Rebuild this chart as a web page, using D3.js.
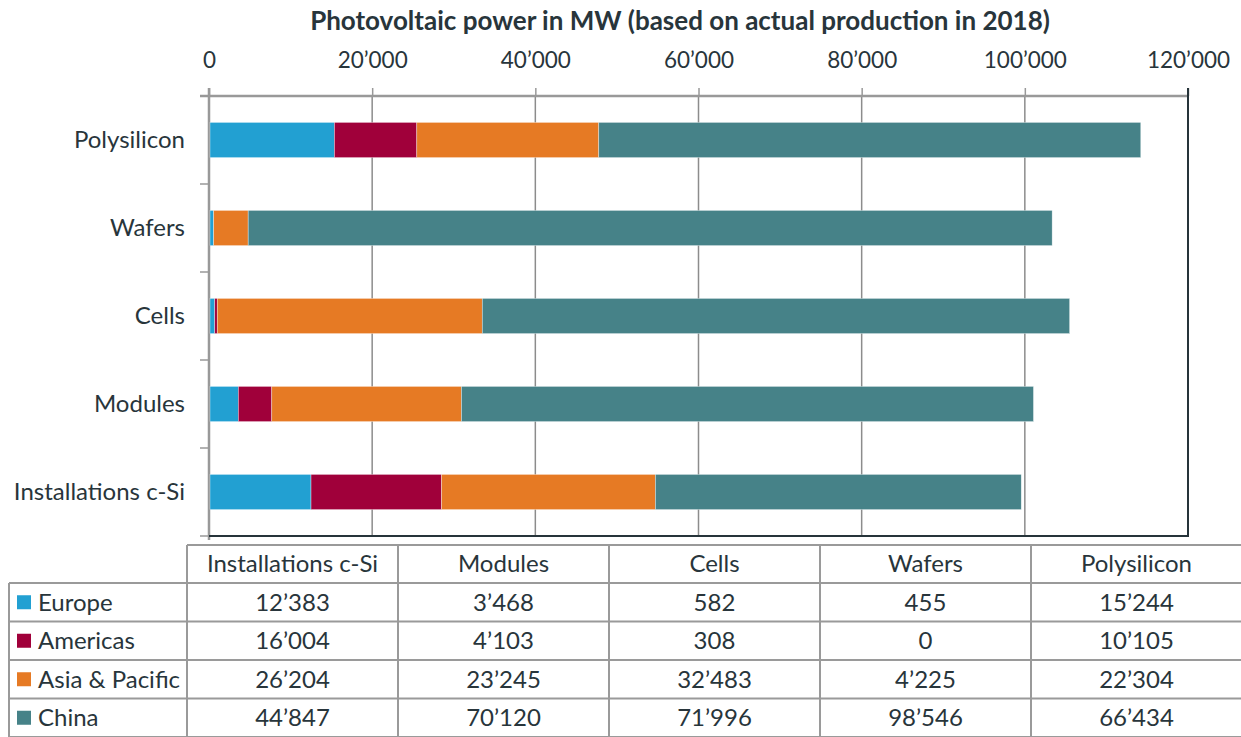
<!DOCTYPE html>
<html>
<head>
<meta charset="utf-8">
<script src="https://cdn.jsdelivr.net/npm/d3@7"></script>
<style>
  body { margin: 0; background: #fff; }
  svg text { font-family: Lato, "Open Sans", sans-serif; fill: #28353b; }
</style>
</head>
<body>
<svg id="chart" width="1241" height="737"></svg>
<script>
// columns in the order of the data table
const stages = ["Installations c-Si", "Modules", "Cells", "Wafers", "Polysilicon"];
const regions = ["Europe", "Americas", "Asia & Pacific", "China"];
const europe = [12383, 3468, 582, 455, 15244];
const americas = [16004, 4103, 308, 0, 10105];
const asiaPacific = [26204, 23245, 32483, 4225, 22304];
const china = [44847, 70120, 71996, 98546, 66434];
const xTicks = [0, 20000, 40000, 60000, 80000, 100000, 120000];
const colors = ["#22a0d2", "#a0003a", "#e67a24", "#468288"];

const title = "Photovoltaic power in MW (based on actual production in 2018)";

const margin = { top: 96, left: 209, right: 53, bottom: 201 };
const width = 1241 - margin.left - margin.right;
const height = 737 - margin.top - margin.bottom;

const fmt = d3.formatLocale({ decimal: ".", thousands: "\u2019", grouping: [3], currency: ["", ""] }).format(",d");

// one row per stage for the stack
const seriesValues = [europe, americas, asiaPacific, china];
const rows = stages.map((s, i) => {
  const r = { stage: s };
  regions.forEach((reg, j) => r[reg] = seriesValues[j][i]);
  return r;
});

const svg = d3.select("#chart");
const chart = svg.append("g").attr("transform", `translate(${margin.left},${margin.top})`);

const xScale = d3.scaleLinear().domain([0, 120000]).range([0, width]);
const yScale = d3.scaleBand()
  .domain(stages.slice().reverse())
  .range([0, height])
  .paddingInner(0.6)
  .paddingOuter(0.3);

// vertical gridlines
chart.append("g")
  .selectAll("line")
  .data(xTicks.slice(1, -1))
  .join("line")
    .attr("x1", d => xScale(d)).attr("x2", d => xScale(d))
    .attr("y1", 0).attr("y2", height)
    .attr("stroke", "#8c8c8c").attr("stroke-width", 1.5);

// top axis
const xAxis = d3.axisTop(xScale).tickValues(xTicks).tickFormat(fmt).tickSize(8).tickPadding(20);
const xAxisG = chart.append("g").attr("class", "x-axis").call(xAxis);
xAxisG.select(".domain").attr("stroke", "#999").attr("stroke-width", 2.5).attr("d", `M-9,0H${width}`);
xAxisG.selectAll(".tick line").attr("stroke", "#999").attr("stroke-width", 1.5);
xAxisG.selectAll(".tick text").style("font-size", "22.5px").style("font-family", "Lato, sans-serif").attr("fill", "#28353b");

// left axis with ticks between categories
const yAxisG = chart.append("g").attr("class", "y-axis");
yAxisG.append("line")
  .attr("x1", 0).attr("x2", 0).attr("y1", -8).attr("y2", height + 4)
  .attr("stroke", "#999").attr("stroke-width", 2.5);
const bounds = d3.range(stages.length + 1).map(i => i * yScale.step());
yAxisG.selectAll(".cat-tick")
  .data(bounds)
  .join("line")
    .attr("class", "cat-tick")
    .attr("x1", -9).attr("x2", 0)
    .attr("y1", d => d).attr("y2", d => d)
    .attr("stroke", "#999").attr("stroke-width", 1.5);
yAxisG.selectAll(".cat-label")
  .data(yScale.domain())
  .join("text")
    .attr("class", "cat-label")
    .attr("x", -24)
    .attr("y", d => yScale(d) + yScale.bandwidth() / 2)
    .attr("dy", "0.35em")
    .attr("text-anchor", "end")
    .style("font-size", "24px")
    .text(d => d);

// stacked bars
const stack = d3.stack().keys(regions);
const stacked = stack(rows);
chart.append("g")
  .selectAll("g")
  .data(stacked)
  .join("g")
    .attr("fill", (d, i) => colors[i])
  .selectAll("rect")
  .data(d => d)
  .join("rect")
    .attr("x", d => xScale(d[0]) + 1)
    .attr("y", d => yScale(d.data.stage))
    .attr("width", d => Math.max(0, xScale(d[1]) - xScale(d[0])))
    .attr("height", yScale.bandwidth())
    .attr("stroke", "#fff").attr("stroke-width", 0.6).attr("stroke-opacity", 0.6);

// dark frame on right and bottom
chart.append("path")
  .attr("d", `M0,${height}H${width}V-8`)
  .attr("fill", "none").attr("stroke", "#26343a").attr("stroke-width", 2);

// title
svg.append("text")
  .attr("x", 680)
  .attr("y", 30)
  .attr("text-anchor", "middle")
  .style("font-size", "26px")
  .style("font-weight", "bold")
  .text(title);

// data table
const tbl = { left: 9, colStart: 187, colW: 211, top: 545, headH: 38, rowH: 38.5 };
const table = svg.append("g").attr("class", "table");
const gridColor = "#9a9a9a";
const tableRight = tbl.colStart + tbl.colW * stages.length;
const rowY = i => tbl.top + tbl.headH + i * tbl.rowH;

// horizontal lines
table.append("line")
  .attr("x1", tbl.colStart).attr("x2", tableRight)
  .attr("y1", tbl.top).attr("y2", tbl.top)
  .attr("stroke", gridColor).attr("stroke-width", 2);
table.selectAll(".hline")
  .data(d3.range(regions.length + 1))
  .join("line")
    .attr("class", "hline")
    .attr("x1", tbl.left).attr("x2", tableRight)
    .attr("y1", d => rowY(d)).attr("y2", d => rowY(d))
    .attr("stroke", gridColor).attr("stroke-width", 2);
// vertical lines
table.append("line")
  .attr("x1", tbl.left).attr("x2", tbl.left)
  .attr("y1", rowY(0)).attr("y2", 737)
  .attr("stroke", gridColor).attr("stroke-width", 2);
table.selectAll(".vline")
  .data(d3.range(stages.length))
  .join("line")
    .attr("class", "vline")
    .attr("x1", d => tbl.colStart + d * tbl.colW).attr("x2", d => tbl.colStart + d * tbl.colW)
    .attr("y1", tbl.top).attr("y2", 737)
    .attr("stroke", gridColor).attr("stroke-width", 2);

// header
table.selectAll(".head")
  .data(stages)
  .join("text")
    .attr("class", "head")
    .attr("x", (d, i) => tbl.colStart + (i + 0.5) * tbl.colW)
    .attr("y", tbl.top + tbl.headH / 2)
    .attr("dy", "0.35em")
    .attr("text-anchor", "middle")
    .style("font-size", "24px")
    .text(d => d);

// row labels with legend swatches
const rowG = table.selectAll(".row")
  .data(regions)
  .join("g")
    .attr("class", "row")
    .attr("transform", (d, i) => `translate(0,${rowY(i)})`);
rowG.append("rect")
  .attr("x", 17).attr("y", tbl.rowH / 2 - 7)
  .attr("width", 14).attr("height", 14)
  .attr("fill", (d, i) => colors[i]);
rowG.append("text")
  .attr("x", 38).attr("y", tbl.rowH / 2)
  .attr("dy", "0.35em")
  .style("font-size", "24px")
  .text(d => d);
rowG.selectAll(".cell")
  .data((d, i) => seriesValues[i])
  .join("text")
    .attr("class", "cell")
    .attr("x", (d, j) => tbl.colStart + (j + 0.5) * tbl.colW)
    .attr("y", tbl.rowH / 2)
    .attr("dy", "0.35em")
    .attr("text-anchor", "middle")
    .style("font-size", "24px")
    .text(d => fmt(d));
</script>
</body>
</html>
